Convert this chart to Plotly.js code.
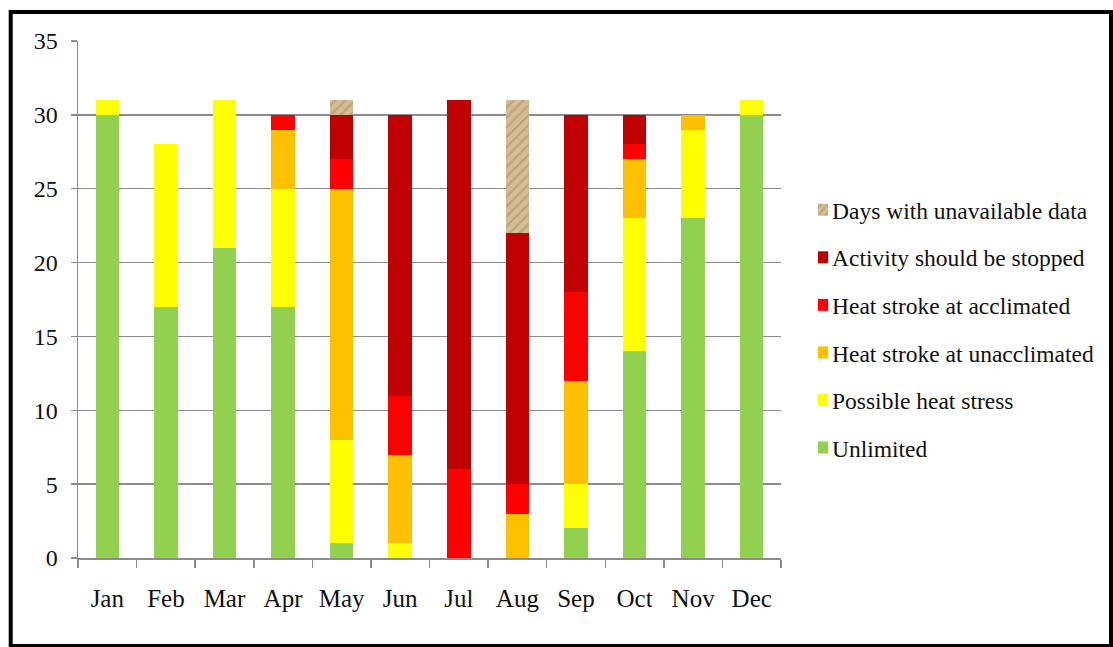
<!DOCTYPE html>
<html>
<head>
<meta charset="utf-8">
<script src="https://cdn.plot.ly/plotly-3.0.1.min.js"></script>
<style>
  html, body { margin: 0; padding: 0; background: #ffffff; }
  #chart { width: 1113px; height: 647px; }
</style>
</head>
<body>
<div id="chart"></div>
<script>
// ---- data ----
var months = ['Jan', 'Feb', 'Mar', 'Apr', 'May', 'Jun', 'Jul', 'Aug', 'Sep', 'Oct', 'Nov', 'Dec'];
var unlimited          = [30, 17, 21, 17, 1, 0, 0, 0, 2, 14, 23, 30];
var possibleHeatStress = [1, 11, 10, 8, 7, 1, 0, 0, 3, 9, 6, 1];
var strokeUnacclimated = [0, 0, 0, 4, 17, 6, 0, 3, 7, 4, 1, 0];
var strokeAcclimated   = [0, 0, 0, 1, 2, 4, 6, 2, 6, 1, 0, 0];
var activityStopped    = [0, 0, 0, 0, 3, 19, 25, 17, 12, 2, 0, 0];
var unavailableDays    = [0, 0, 0, 0, 1, 0, 0, 9, 0, 0, 0, 0];

var seriesNames = ['Unlimited', 'Possible heat stress', 'Heat stroke at unacclimated',
                   'Heat stroke at acclimated', 'Activity should be stopped', 'Days with unavailable data'];
var seriesValues = [unlimited, possibleHeatStress, strokeUnacclimated, strokeAcclimated, activityStopped, unavailableDays];
var seriesColors = ['#92D050', '#FFFF00', '#FFC000', '#FF0000', '#C00000', '#CDB28A'];

var traces = seriesValues.map(function (vals, i) {
  var t = {
    type: 'bar',
    name: seriesNames[i],
    x: months,
    y: vals,
    legendgroup: 'g' + i,
    legendrank: 1000 - i * 10,
    marker: { color: seriesColors[i], line: { width: 0 } },
    hoverinfo: 'skip'
  };
  if (i === 5) {
    t.marker.pattern = { shape: '/', fgcolor: '#a8875a', bgcolor: '#d4bc96', size: 7, solidity: 0.3, fillmode: 'overlay' };
  }
  return t;
});

// plot area: x 78..781, y 41..558
var L = 78, R = 781, T = 41, B = 558;
function px(x) { return (x - L) / (R - L); }
function py(y) { return (B - y) / (B - T); }

var serif = 'Liberation Serif, Times New Roman, serif';

var layout = {
  width: 1113,
  height: 647,
  margin: { l: L, r: 1113 - R, t: T, b: 647 - B, pad: 0, autoexpand: false },
  paper_bgcolor: '#ffffff',
  plot_bgcolor: '#ffffff',
  barmode: 'stack',
  bargap: 0.6,
  showlegend: true,
  hovermode: false,
  font: { family: serif, color: '#111111', size: 23 },
  xaxis: {
    type: 'category',
    tickson: 'boundaries',
    ticks: 'outside',
    ticklen: 8,
    tickwidth: 1.5,
    tickcolor: '#8c8c8c',
    showline: true,
    linecolor: '#8c8c8c',
    linewidth: 1.5,
    showgrid: false,
    zeroline: false,
    ticklabelstandoff: 17,
    tickfont: { family: serif, size: 25, color: '#111111' },
    fixedrange: true
  },
  yaxis: {
    range: [0, 35],
    dtick: 5,
    tick0: 0,
    ticks: 'outside',
    ticklen: 6,
    tickwidth: 1.5,
    tickcolor: '#8c8c8c',
    showline: true,
    linecolor: '#8c8c8c',
    linewidth: 1.5,
    showgrid: true,
    gridcolor: '#8c8c8c',
    gridwidth: 1.5,
    zeroline: false,
    ticklabelstandoff: 8,
    tickfont: { family: serif, size: 24, color: '#111111' },
    fixedrange: true
  },
  legend: {
    x: px(792),
    xanchor: 'left',
    y: py(188),
    yanchor: 'top',
    traceorder: 'grouped',
    tracegroupgap: 14,
    font: { family: serif, size: 23.5, color: '#111111' },
    bgcolor: 'rgba(0,0,0,0)',
    borderwidth: 0
  },
  shapes: [{
    type: 'rect',
    xref: 'paper', yref: 'paper',
    x0: px(10.7), x1: px(1111),
    y0: py(646), y1: py(12),
    line: { color: '#000000', width: 4 },
    fillcolor: 'rgba(0,0,0,0)',
    layer: 'above'
  }]
};

Plotly.newPlot('chart', traces, layout, { staticPlot: true, displayModeBar: false }).then(function (gd) {
  var pts = gd.querySelectorAll('.legendpoints path');
  pts.forEach(function (p) {
    var tr = p.getAttribute('transform') || '';
    p.setAttribute('transform', tr + ' translate(11,0) scale(0.85,1)');
  });
});
</script>
</body>
</html>
